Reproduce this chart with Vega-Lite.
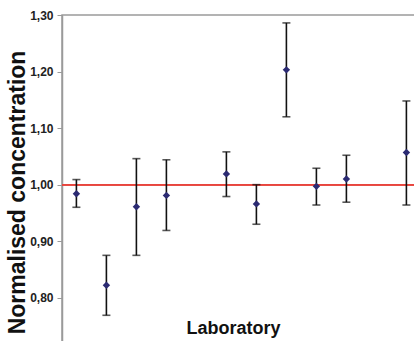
{
  "$schema": "https://vega.github.io/schema/vega-lite/v6.json",
  "autosize": {"type": "none"},
  "padding": {"left": 62, "top": 15, "right": 0, "bottom": 0},
  "width": 360,
  "height": 328,
  "config": {
    "locale": {"number": {"decimal": ",", "thousands": ".", "grouping": [3], "currency": ["", " €"]}},
    "font": "Liberation Sans",
    "view": {"stroke": "#9a9a9a", "strokeWidth": 1.5}
  },
  "data": {
    "values": [
      {"lab": 1, "value": 0.984, "low": 0.960, "high": 1.009},
      {"lab": 2, "value": 0.822, "low": 0.769, "high": 0.875},
      {"lab": 3, "value": 0.961, "low": 0.875, "high": 1.046},
      {"lab": 4, "value": 0.981, "low": 0.919, "high": 1.044},
      {"lab": 6, "value": 1.019, "low": 0.979, "high": 1.058},
      {"lab": 7, "value": 0.966, "low": 0.930, "high": 1.000},
      {"lab": 8, "value": 1.203, "low": 1.120, "high": 1.286},
      {"lab": 9, "value": 0.997, "low": 0.964, "high": 1.029},
      {"lab": 10, "value": 1.010, "low": 0.969, "high": 1.052},
      {"lab": 12, "value": 1.057, "low": 0.964, "high": 1.148}
    ]
  },
  "encoding": {
    "x": {
      "field": "lab", "type": "quantitative",
      "scale": {"domain": [0.52, 12.52], "nice": false, "zero": false},
      "axis": {
        "title": "Laboratory", "labels": false, "ticks": false, "domain": false, "grid": false,
        "titleFont": "Liberation Sans", "titleFontSize": 18, "titleFontWeight": "bold", "titleColor": "#111111",
        "titleX": 171, "titleAnchor": "middle", "titleY": -10, "titleBaseline": "alphabetic"
      }
    }
  },
  "layer": [
    {
      "mark": {"type": "rule", "color": "#e8453e", "strokeWidth": 1.3},
      "encoding": {"x": null, "y": {"datum": 1.0, "type": "quantitative"}}
    },
    {
      "mark": {"type": "rule", "color": "#111111", "strokeWidth": 1.6},
      "encoding": {
        "y": {
          "field": "low", "type": "quantitative",
          "scale": {"domain": [0.72, 1.30], "nice": false, "zero": false},
          "axis": {
            "title": "Normalised concentration",
            "values": [0.8, 0.9, 1.0, 1.1, 1.2, 1.3],
            "format": ".2f",
            "grid": false,
            "domainColor": "#9a9a9a", "domainWidth": 1.5,
            "tickColor": "#9a9a9a", "tickSize": 5, "tickWidth": 1,
            "labelFont": "Liberation Sans", "labelFontSize": 12, "labelFontWeight": "bold", "labelColor": "#222222",
            "labelPadding": 4,
            "titleFont": "Liberation Sans", "titleFontSize": 23, "titleFontWeight": "bold", "titleColor": "#111111",
            "titleAngle": -90, "titleX": -38, "titleY": 177, "titleBaseline": "alphabetic", "titleAlign": "center"
          }
        },
        "y2": {"field": "high"}
      }
    },
    {
      "mark": {"type": "tick", "orient": "horizontal", "color": "#111111", "size": 8, "thickness": 1.6},
      "encoding": {"y": {"field": "low", "type": "quantitative"}}
    },
    {
      "mark": {"type": "tick", "orient": "horizontal", "color": "#111111", "size": 8, "thickness": 1.6},
      "encoding": {"y": {"field": "high", "type": "quantitative"}}
    },
    {
      "mark": {"type": "point", "shape": "diamond", "filled": true, "color": "#2b2a72", "size": 55, "opacity": 1},
      "encoding": {"y": {"field": "value", "type": "quantitative"}}
    }
  ]
}
